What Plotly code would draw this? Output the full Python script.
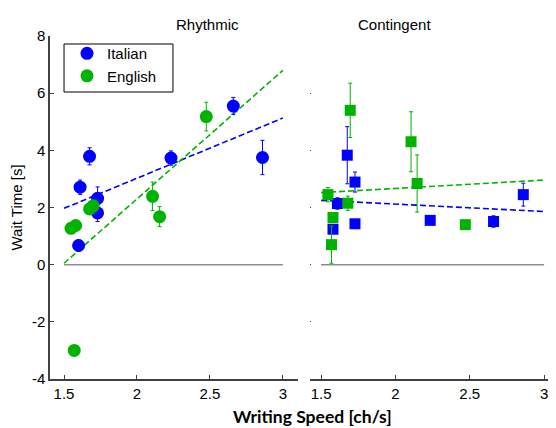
import plotly.graph_objects as go

# ---- data ----
ita_speed_rhy = [1.60, 1.61, 1.675, 1.73, 1.73, 2.233, 2.66, 2.86]
ita_wait_rhy = [0.67, 2.71, 3.79, 2.32, 1.81, 3.73, 5.55, 3.75]
ita_err_rhy = [0.2, 0.25, 0.3, 0.4, 0.3, 0.25, 0.3, 0.6]

eng_speed_rhy = [1.548, 1.57, 1.58, 1.675, 1.70, 2.107, 2.155, 2.475]
eng_wait_rhy = [1.27, -3.0, 1.37, 1.95, 2.06, 2.39, 1.68, 5.18]
eng_err_rhy = [0.1, 0.15, 0.1, 0.1, 0.15, 0.5, 0.35, 0.5]

ita_speed_con = [1.58, 1.61, 1.676, 1.728, 1.728, 2.234, 2.66, 2.86]
ita_wait_con = [1.24, 2.14, 3.83, 2.89, 1.43, 1.55, 1.51, 2.45]
ita_err_con = [0.1, 0.2, 1.0, 0.35, 0.1, 0.1, 0.2, 0.4]

eng_speed_con = [1.546, 1.57, 1.58, 1.68, 1.696, 2.105, 2.146, 2.47]
eng_wait_con = [2.45, 0.70, 1.65, 2.15, 5.40, 4.30, 2.84, 1.40]
eng_err_con = [0.25, 0.65, 0.1, 0.25, 0.95, 1.05, 1.0, 0.1]

fit_x = [1.5, 3.0]
fit_ita_rhy = [1.97, 5.13]
fit_eng_rhy = [0.05, 6.80]
fit_ita_con = [2.25, 1.86]
fit_eng_con = [2.52, 2.96]
zero_y = [0, 0]

panel_titles = ["Rhythmic", "Contingent"]
y_ticks = [-4, -2, 0, 2, 4, 6, 8]
y_tick_labels = ["-4", "-2", "0", "2", "4", "6", "8"]
x_ticks = [1.5, 2, 2.5, 3]
x_tick_labels = ["1.5", "2", "2.5", "3"]

BLUE = "#0000FF"
GREEN = "rgb(0,179,0)"
FONT = "Liberation Sans, Arial, sans-serif"

fig = go.Figure()

def add_panel(xa, ya, data, symbol, size, legend):
    fig.add_trace(go.Scatter(x=fit_x, y=zero_y, mode="lines",
                             line=dict(color="#8c8c8c", width=1.5),
                             xaxis=xa, yaxis=ya, showlegend=False, hoverinfo="skip"))
    for name, col, xs, ys, es, fit in data:
        fig.add_trace(go.Scatter(x=fit_x, y=fit, mode="lines",
                                 line=dict(color=col, width=1.6, dash="6px,3px"),
                                 xaxis=xa, yaxis=ya, showlegend=False))
    for name, col, xs, ys, es, fit in data:
        fig.add_trace(go.Scatter(x=xs, y=ys, mode="markers", name=name,
                                 marker=dict(color=col, size=size, symbol=symbol),
                                 error_y=dict(type="data", array=es, color=col,
                                              thickness=1, width=2),
                                 xaxis=xa, yaxis=ya, showlegend=legend,
                                 legendgroup=name))

add_panel("x", "y", [
    ("Italian", BLUE, ita_speed_rhy, ita_wait_rhy, ita_err_rhy, fit_ita_rhy),
    ("English", GREEN, eng_speed_rhy, eng_wait_rhy, eng_err_rhy, fit_eng_rhy),
], "circle", 13, True)
add_panel("x2", "y2", [
    ("Italian", BLUE, ita_speed_con, ita_wait_con, ita_err_con, fit_ita_con),
    ("English", GREEN, eng_speed_con, eng_wait_con, eng_err_con, fit_eng_con),
], "square", 11, False)

axis_common = dict(showgrid=False, zeroline=False, ticks="inside",
                   tickcolor="#404040", linecolor="#404040", linewidth=1.5,
                   tickfont=dict(family=FONT, size=15, color="black"))

fig.update_layout(
    width=556, height=428,
    margin=dict(l=42, r=8, t=28, b=57),
    plot_bgcolor="white", paper_bgcolor="white",
    font=dict(family=FONT, size=14, color="black"),
    xaxis=dict(domain=[0, 0.49], range=[1.404, 3.103], tickvals=x_ticks,
               ticktext=x_tick_labels, showline=True, ticklen=4, **axis_common),
    yaxis=dict(domain=[0, 1], range=[-4, 8], tickvals=y_ticks, ticktext=y_tick_labels,
               showline=True, ticklen=4,
               title=dict(text="Wait Time [s]", font=dict(family=FONT, size=15), standoff=6),
               **axis_common),
    xaxis2=dict(domain=[0.514, 1], range=[1.426, 3.08], tickvals=x_ticks,
                ticktext=x_tick_labels, showline=True, ticklen=4, **axis_common),
    yaxis2=dict(domain=[0, 1], range=[-4, 8], tickvals=y_ticks, anchor="x2",
                showline=False, showticklabels=False, ticklen=1, **axis_common),
    legend=dict(x=0.0336, y=0.997, xanchor="left", yanchor="top",
                borderwidth=0, bgcolor="rgba(0,0,0,0)",
                font=dict(family=FONT, size=15), itemwidth=30,
                tracegroupgap=0),
    showlegend=True,
    shapes=[dict(type="rect", xref="paper", yref="paper",
                 x0=0.0277, x1=0.243, y0=0.8367, y1=0.9767,
                 line=dict(color="black", width=1), fillcolor="white", layer="below")],
    annotations=[
        dict(text=panel_titles[0], x=0.245, y=1.0, xref="paper", yref="paper",
             yanchor="bottom", yshift=1, showarrow=False, font=dict(family=FONT, size=15)),
        dict(text=panel_titles[1], x=0.757, y=1.0, xref="paper", yref="paper",
             yanchor="bottom", yshift=1, showarrow=False, font=dict(family=FONT, size=15)),
        dict(text="<b>Writing Speed [ch/s]</b>", x=0.518, y=-0.108, xref="paper", yref="paper",
             yanchor="middle", showarrow=False, font=dict(family="Lato, sans-serif", size=17.5)),
    ],
)

fig.write_html("out.html")
